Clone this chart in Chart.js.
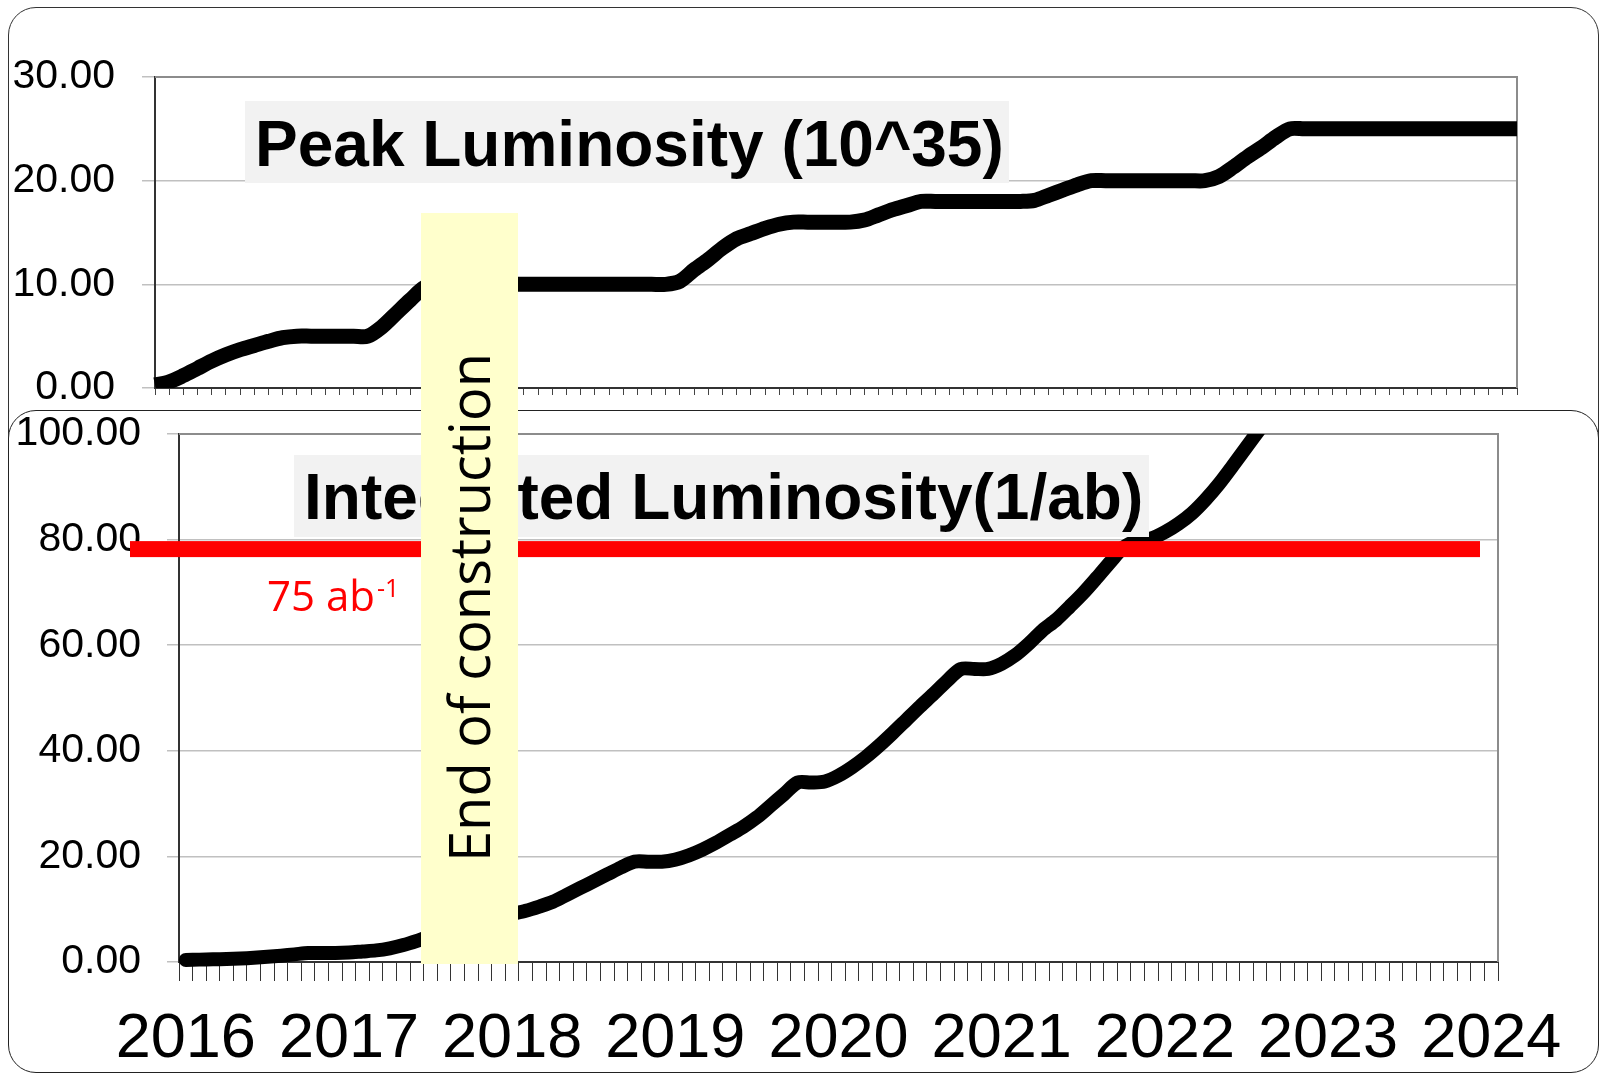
<!DOCTYPE html>
<html>
<head>
<meta charset="utf-8">
<script src="https://cdn.jsdelivr.net/npm/chart.js@4/dist/chart.umd.min.js"></script>
<style>
  html, body { margin:0; padding:0; background:#fff; width:1600px; height:1075px; overflow:hidden; }
  canvas { position:absolute; left:0; top:0; }
  #topPanel { position:absolute; left:8px; top:7px; width:1591px; height:700px; box-sizing:border-box;
              border:1.5px solid #333; border-radius:28px; background:#fff; z-index:0; }
  #bottomPanel { position:absolute; left:8px; top:410px; width:1591px; height:663px; box-sizing:border-box;
              border:1.5px solid #222; border-radius:28px; background:#fff; z-index:2; }
  #topChart { z-index:1; }
  #bottomChart { z-index:3; }
</style>
</head>
<body>
<div id="topPanel"></div>
<canvas id="topChart" width="1600" height="1075"></canvas>
<div id="bottomPanel"></div>
<canvas id="bottomChart" width="1600" height="1075"></canvas>
<script>
// ---------------- DATA ----------------
const years = [2016, 2017, 2018, 2019, 2020, 2021, 2022, 2023, 2024];
const monthNames = ['Jan','Feb','Mar','Apr','May','Jun','Jul','Aug','Sep','Oct','Nov','Dec'];
const yearLabels = ['2016','2017','2018','2019','2020','2021','2022','2023','2024'];

// peak luminosity (10^35), one value per month, Jan 2016 .. Jan 2024
const peakLumi = [
  0.3, 0.6, 1.2, 1.9, 2.6, 3.2, 3.7, 4.1, 4.5, 4.85,
  5.0, 5.0, 5.0, 5.0, 5.0, 5.0, 5.9, 7.2, 8.5, 9.7,
  10, 10, 10, 10, 10, 10, 10, 10, 10, 10,
  10, 10, 10, 10, 10, 10, 10, 10.3, 11.4, 12.4,
  13.5, 14.4, 14.9, 15.4, 15.8, 16, 16, 16, 16, 16,
  16.2, 16.7, 17.2, 17.6, 18, 18, 18, 18, 18, 18,
  18, 18, 18.1, 18.6, 19.1, 19.6, 20, 20, 20, 20,
  20, 20, 20, 20, 20, 20.4, 21.3, 22.3, 23.2, 24.2,
  25, 25, 25, 25, 25, 25, 25, 25, 25, 25,
  25, 25, 25, 25, 25, 25, 25
];

// integrated luminosity (1/ab), one value per month, Jan 2016 .. Jan 2024
const intLumi = [
  0.4, 0.45, 0.5, 0.55, 0.65, 0.8, 1.0, 1.2, 1.45, 1.7,
  1.7, 1.7, 1.8, 2.0, 2.2, 2.6, 3.2, 4.0, 4.9, 5.8,
  6.6, 7.3, 7.9, 8.5, 9.1, 9.7, 10.5, 11.4, 12.7, 14.0,
  15.3, 16.6, 17.9, 19.0, 19.0, 19.0, 19.4, 20.2, 21.3, 22.6,
  24.1, 25.6, 27.4, 29.6, 31.8, 34.0, 34.0, 34.2, 35.3, 36.9,
  38.8, 41.0, 43.4, 45.9, 48.4, 50.8, 53.3, 55.5, 55.5, 55.5,
  56.5, 58.1, 60.3, 62.8, 64.8, 67.3, 69.9, 72.8, 75.8, 78.6,
  79.8, 80.2, 81.4, 83.0, 85.0, 87.6, 90.6, 94.0, 97.5, 101.0,
  104.5, 108.0, 111.5, 115.0, 118.5, 122.0, 125.0, 125.0, 125.0, 126.5,
  130.0, 134.0, 138.0, 142.0, 146.0, 150.0, 154.0
];

const goalLineValue = 78.2;       // red target line (labelled 75 ab^-1)
const goalLabel = '75 ab';
const goalLabelSup = '-1';
const constructionLabel = 'End of construction';
const peakTitle = 'Peak Luminosity (10^35)';
const intTitle = 'Integrated Luminosity(1/ab)';

// month categories
const months = [];
years.forEach(y => monthNames.forEach(m => months.push(m + ' ' + y)));
months.length = peakLumi.length;

// ---------------- STYLE / PLUGINS ----------------
const SANS = "'Liberation Sans', Arial, sans-serif";
const CAL = "'Open Sans', 'Noto Sans', sans-serif";

const framePlugin = {
  id: 'frame',
  beforeDatasetsDraw(chart, args, o) {
    const { ctx, chartArea: a } = chart;
    ctx.save();
    ctx.strokeStyle = o.color;
    ctx.lineWidth = o.width;
    ctx.beginPath();
    ctx.moveTo(a.left, a.top);
    ctx.lineTo(a.right, a.top);
    ctx.lineTo(a.right, a.bottom);
    ctx.stroke();
    ctx.restore();
  }
};

const titleBoxPlugin = {
  id: 'titleBox',
  afterDraw(chart, args, o) {
    const ctx = chart.ctx;
    ctx.save();
    ctx.fillStyle = o.bg;
    ctx.fillRect(o.x0, o.y0, o.x1 - o.x0, o.y1 - o.y0);
    ctx.font = o.font;
    ctx.fillStyle = o.color;
    ctx.textAlign = 'left';
    ctx.textBaseline = 'alphabetic';
    ctx.fillText(o.text, o.tx, o.ty);
    ctx.restore();
  }
};

const overlayPlugin = {
  id: 'overlay',
  afterDraw(chart, args, o) {
    const ctx = chart.ctx;
    const y = chart.scales.y.getPixelForValue(o.goalValue);
    ctx.save();
    // red goal line
    ctx.fillStyle = '#ff0000';
    ctx.fillRect(o.redX0, y - 8, o.redX1 - o.redX0, 16);
    // red label
    ctx.font = '42px ' + CAL;
    ctx.textBaseline = 'alphabetic';
    ctx.textAlign = 'left';
    ctx.fillText(o.goalLabel, o.lblX, o.lblY);
    const w = ctx.measureText(o.goalLabel).width;
    ctx.font = '25px ' + CAL;
    ctx.fillText(o.goalSup, o.lblX + w + 2, o.lblY - 14);
    // yellow construction box
    ctx.fillStyle = '#ffffcc';
    ctx.fillRect(o.boxX0, o.boxY0, o.boxX1 - o.boxX0, o.boxY1 - o.boxY0);
    ctx.translate(o.txtX, o.txtY);
    ctx.rotate(-Math.PI / 2);
    ctx.fillStyle = '#000';
    ctx.font = '56px ' + CAL;
    ctx.fillText(o.text, 0, 0);
    ctx.restore();
  }
};

// ---------------- TOP CHART ----------------
new Chart(document.getElementById('topChart'), {
  type: 'line',
  data: {
    labels: months,
    datasets: [{
      data: peakLumi,
      borderColor: '#000',
      borderWidth: 15,
      pointRadius: 0,
      tension: 0.3,
      borderCapStyle: 'butt',
      borderJoinStyle: 'round',
      fill: false
    }]
  },
  options: {
    responsive: false,
    animation: false,
    devicePixelRatio: 1,
    layout: { padding: { left: 0, top: 77, right: 83, bottom: 655 } },
    plugins: {
      legend: { display: false },
      tooltip: { enabled: false },
      frame: { color: '#8c8c8c', width: 2 },
      titleBox: { bg: '#f2f2f2', x0: 245, y0: 101, x1: 1009, y1: 183,
                  font: 'bold 64px ' + SANS, color: '#000', text: peakTitle, tx: 255, ty: 166 }
    },
    scales: {
      x: {
        type: 'category',
        offset: false,
        grid: { display: true, drawOnChartArea: false, drawTicks: true, tickLength: 7, color: '#444', lineWidth: 1 },
        border: { display: true, color: '#333', width: 2 },
        ticks: {
          autoSkip: false, maxRotation: 0, minRotation: 0, padding: 5,
          color: '#000', font: { family: SANS, size: 63 },
          callback: (v, i) => (i % 12 === 0 ? yearLabels[i / 12] : '')
        },
        afterFit(s) { s.height = 32; }
      },
      y: {
        min: 0, max: 30,
        ticks: { stepSize: 10, callback: v => Number(v).toFixed(2), color: '#000',
                 font: { family: SANS, size: 41 }, padding: 27 },
        grid: { color: '#c0c0c0', lineWidth: 1.5, tickLength: 13 },
        border: { display: true, color: '#333', width: 2 },
        afterFit(s) { s.width = 155; }
      }
    }
  },
  plugins: [framePlugin, titleBoxPlugin]
});

// ---------------- BOTTOM CHART ----------------
new Chart(document.getElementById('bottomChart'), {
  type: 'line',
  data: {
    labels: months,
    datasets: [{
      data: intLumi,
      borderColor: '#000',
      borderWidth: 14,
      pointRadius: 0,
      tension: 0.3,
      borderCapStyle: 'round',
      borderJoinStyle: 'round',
      fill: false,
      clip: { left: 10, right: 10, top: 0, bottom: 10 }
    }]
  },
  options: {
    responsive: false,
    animation: false,
    devicePixelRatio: 1,
    layout: { padding: { left: 0, top: 434, right: 102, bottom: 0 } },
    plugins: {
      legend: { display: false },
      tooltip: { enabled: false },
      frame: { color: '#8c8c8c', width: 2 },
      titleBox: { bg: '#f2f2f2', x0: 294, y0: 455, x1: 1149, y1: 537,
                  font: 'bold 64px ' + SANS, color: '#000', text: intTitle, tx: 304, ty: 519 },
      overlay: { goalValue: goalLineValue, redX0: 130, redX1: 1480,
                 goalLabel: goalLabel, goalSup: goalLabelSup, lblX: 267, lblY: 611,
                 boxX0: 421, boxX1: 518, boxY0: 213, boxY1: 964,
                 text: constructionLabel, txtX: 490, txtY: 862 }
    },
    scales: {
      x: {
        type: 'category',
        offset: true,
        grid: { display: true, offset: true, drawOnChartArea: false, drawTicks: true, tickLength: 19, color: '#333', lineWidth: 1 },
        border: { display: true, color: '#333', width: 2 },
        ticks: {
          autoSkip: false, maxRotation: 0, minRotation: 0, padding: 21,
          color: '#000', font: { family: SANS, size: 63 },
          callback: (v, i) => (i % 12 === 0 ? yearLabels[i / 12] : '')
        },
        afterFit(s) { s.height = 113; }
      },
      y: {
        min: 0, max: 100,
        ticks: { stepSize: 20, callback: v => Number(v).toFixed(2), color: '#000',
                 font: { family: SANS, size: 41 }, padding: 26 },
        grid: { color: '#c0c0c0', lineWidth: 1.5, tickLength: 12 },
        border: { display: true, color: '#333', width: 2 },
        afterFit(s) { s.width = 179; }
      }
    }
  },
  plugins: [framePlugin, titleBoxPlugin, overlayPlugin]
});
</script>
</body>
</html>
